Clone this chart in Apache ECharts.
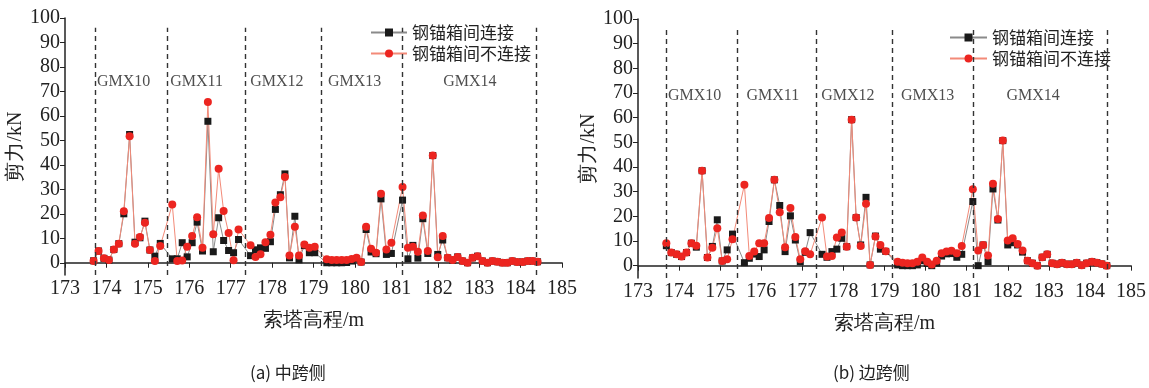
<!DOCTYPE html>
<html>
<head>
<meta charset="utf-8">
<script src="https://cdn.jsdelivr.net/npm/echarts@6/dist/echarts.min.js"></script>
<style>
  html, body { margin: 0; padding: 0; background: #fff; }
  #chart { width: 1149px; height: 388px; }
</style>
</head>
<body>
<div id="chart"></div>
<script>
  // 索塔高程 (m)，两幅图共用
  const heights = [
    173.69, 173.81, 173.94, 174.06, 174.18, 174.30, 174.42, 174.56, 174.69, 174.81,
    174.93, 175.05, 175.17, 175.30, 175.59, 175.71, 175.83, 175.95, 176.07, 176.19,
    176.32, 176.45, 176.58, 176.71, 176.83, 176.95, 177.07, 177.19, 177.48, 177.60,
    177.72, 177.84, 177.96, 178.08, 178.20, 178.31, 178.42, 178.55, 178.65, 178.78,
    178.90, 179.03, 179.32, 179.44, 179.56, 179.68, 179.80, 179.92, 180.04, 180.15,
    180.27, 180.39, 180.51, 180.63, 180.76, 180.88, 181.15, 181.28, 181.40, 181.52,
    181.64, 181.76, 181.88, 182.00, 182.12, 182.24, 182.36, 182.48, 182.60, 182.72,
    182.84, 182.96, 183.08, 183.20, 183.32, 183.44, 183.56, 183.68, 183.80, 183.92,
    184.05, 184.17, 184.29, 184.41
  ];

  // (a) 中跨侧 剪力 kN
  const midLinked = [
    0.8, 4.8, 1.8, 1.1, 5.4, 7.8, 20, 52.4, 8.4, 10.2,
    17, 5.2, 2.7, 7.9, 1.6, 1.6, 8.2, 2.4, 8.2, 16.6,
    4.8, 57.8, 4.5, 18.4, 9.1, 5.0, 4.1, 9.5, 2.9, 5.3,
    6.1, 5.9, 8.6, 21.8, 27.8, 36.3, 2.0, 19.0, 1.2, 7.0,
    4.1, 4.1, 0, 0, 0, 0, 0.1, 0.7, 1.6, 0.3,
    13.6, 4.4, 3.7, 26.1, 3.4, 3.8, 25.6, 1.6, 7.1, 1.9,
    18.0, 3.8, 43.8, 3.4, 9.3, 2.0, 1.1, 2.4, 0.7, 0,
    2.0, 2.7, 0.7, 0, 0.7, 0.4, 0, 0, 0.7, 0.3,
    0.3, 0.7, 0.7, 0.4
  ];
  const midUnlinked = [
    0.7, 4.8, 1.8, 1.1, 5.4, 7.8, 21, 51.7, 7.8, 10.5,
    16.3, 5.2, 0.7, 6.8, 23.8, 0.7, 0.9, 6.5, 10.9, 18.6,
    6.1, 65.7, 11.6, 38.4, 21.1, 12.2, 1.0, 13.6, 7.2, 2.4,
    3.5, 8.4, 11.4, 24.6, 26.8, 35.0, 3.0, 14.7, 3.0, 7.5,
    6.1, 6.5, 1.4, 1.1, 1.1, 1.1, 1.1, 1.5, 2.0, 0.3,
    14.7, 5.7, 4.1, 28.2, 5.4, 8.2, 31.0, 6.1, 6.5, 4.5,
    19.3, 4.8, 43.8, 2.3, 10.9, 2.0, 1.1, 2.4, 0.7, 0,
    2.0, 2.7, 0.7, 0, 0.7, 0.4, 0, 0, 0.7, 0.3,
    0.3, 0.7, 0.7, 0.4
  ];

  // (b) 边跨侧 剪力 kN
  const sideLinked = [
    8.1, 5.3, 4.6, 3.7, 5.3, 9.1, 7.5, 38.5, 3.3, 7.8,
    18.6, 1.9, 6.4, 12.8, 1.2, 3.0, 4.7, 3.7, 6.4, 17.9,
    34.8, 24.4, 5.7, 20.2, 10.4, 1.6, 5.4, 13.4, 4.6, 3.4,
    5.7, 6.7, 11.1, 7.7, 59.2, 19.5, 8.4, 27.7, 0.3, 12.0,
    6.7, 5.8, 0.3, 0, 0, 0, 0.3, 2.0, 0.9, 0,
    1.0, 3.9, 4.8, 4.9, 3.4, 4.6, 26.0, 0, 8.4, 1.6,
    31.1, 18.5, 50.7, 8.4, 9.3, 8.4, 5.5, 2.0, 1.0, 0,
    3.4, 4.6, 1.0, 0.6, 1.2, 0.6, 0.6, 1.2, 0.2, 1.0,
    1.6, 1.2, 0.7, 0
  ];
  const sideUnlinked = [
    9.1, 5.3, 4.6, 3.7, 5.3, 9.1, 8.1, 38.5, 3.3, 7.3,
    15.2, 1.9, 2.6, 10.7, 32.8, 3.9, 5.7, 9.1, 9.1, 19.3,
    34.8, 21.7, 7.5, 23.4, 11.6, 2.6, 5.8, 4.6, 19.5, 3.7,
    3.9, 11.4, 13.4, 7.7, 59.2, 19.5, 8.0, 25.1, 0.3, 11.8,
    8.4, 5.8, 1.6, 1.2, 1.0, 1.0, 1.6, 3.3, 1.6, 0.5,
    2.0, 5.0, 5.7, 6.0, 5.0, 8.0, 31.0, 6.1, 8.4, 4.1,
    33.2, 18.9, 50.7, 10.2, 11.1, 8.8, 6.1, 2.0, 1.0, 0,
    3.4, 4.6, 1.0, 0.6, 1.2, 0.6, 0.6, 1.2, 0.2, 1.0,
    1.6, 1.2, 0.7, 0
  ];

  // 钢锚箱分段
  const midBounds = [173.72, 175.46, 177.35, 179.18, 181.15, 184.38];
  const sideBounds = [173.68, 175.42, 177.34, 179.18, 181.15, 184.42];
  const zoneNames = ['GMX10', 'GMX11', 'GMX12', 'GMX13', 'GMX14'];
  const midZoneX = [173.77, 175.54, 177.47, 179.35, 182.13];
  const sideZoneX = [173.73, 175.64, 177.46, 179.40, 181.97];
  const yTicks = [0, 10, 20, 30, 40, 50, 60, 70, 80, 90, 100];

  const nameLinked = '钢锚箱间连接';
  const nameUnlinked = '钢锚箱间不连接';
  const serif = 'Liberation Serif';
  const cjk = 'Noto Sans CJK SC';
  // 刻度文字用 rich 指定衬线体
  const serifRich = { s: { fontFamily: serif, fontSize: 20, color: '#222' } };

  const chart = echarts.init(document.getElementById('chart'));

  function pairs(vals) {
    return heights.map((h, i) => [h, vals[i]]);
  }

  function xAxisOf(gridIndex) {
    return {
      type: 'value', gridIndex: gridIndex,
      min: 173, max: 185, interval: 1,
      name: '{s|索塔高程/m}', nameLocation: 'middle', nameGap: 36,
      nameTextStyle: { fontFamily: serif, fontSize: 20, color: '#222', rich: serifRich },
      axisLine: { lineStyle: { color: '#222', width: 1.5 } },
      axisTick: { show: true, inside: false, length: 5, lineStyle: { color: '#222' } },
      axisLabel: {
        fontFamily: serif, fontSize: 20, color: '#222', margin: 4,
        showMinLabel: true, showMaxLabel: true,
        formatter: '{s|{value}}', rich: serifRich
      },
      splitLine: { show: false }
    };
  }

  function yAxisOf(gridIndex) {
    return {
      type: 'value', gridIndex: gridIndex,
      min: -5, max: 100,
      name: '{s|剪力/kN}', nameLocation: 'middle', nameGap: 38,
      nameTextStyle: { fontFamily: serif, fontSize: 20, color: '#222', rich: serifRich },
      axisLine: { show: true, lineStyle: { color: '#222', width: 1.5 } },
      axisTick: { show: true, inside: false, length: 5, customValues: yTicks, lineStyle: { color: '#222' } },
      axisLabel: {
        fontFamily: serif, fontSize: 20, color: '#222', margin: 5, customValues: yTicks,
        formatter: '{s|{value}}', rich: serifRich
      },
      splitLine: { show: false }
    };
  }

  function boundLines(bounds) {
    return {
      silent: true,
      symbol: ['none', 'none'],
      label: { show: false },
      lineStyle: { color: '#333', width: 1.4, type: [5, 4] },
      data: bounds.map(b => [{ coord: [b, -5] }, { coord: [b, 96] }])
    };
  }

  function seriesFor(idx, linked, unlinked, bounds, zoneX, zoneY) {
    return [
      {
        name: nameLinked, type: 'line', xAxisIndex: idx, yAxisIndex: idx,
        data: pairs(linked),
        symbol: 'rect', symbolSize: 7,
        itemStyle: { color: '#1a1a1a' },
        lineStyle: { color: '#8a8a8a', width: 1 },
        markLine: boundLines(bounds),
        animation: false
      },
      {
        name: nameUnlinked, type: 'line', xAxisIndex: idx, yAxisIndex: idx,
        data: pairs(unlinked),
        symbol: 'circle', symbolSize: 8,
        itemStyle: { color: '#ec2520' },
        lineStyle: { color: '#f38a78', width: 1 },
        animation: false
      },
      {
        name: 'zones', type: 'scatter', xAxisIndex: idx, yAxisIndex: idx,
        data: zoneX.map((x, i) => ({ value: [x, zoneY], name: zoneNames[i] })),
        symbolSize: 0, silent: true,
        label: {
          show: true, position: 'right', distance: 0,
          formatter: p => p.name,
          fontFamily: serif, fontSize: 16, color: '#222'
        },
        animation: false
      }
    ];
  }

  function legendFor(left, top, w) {
    return {
      data: [nameLinked, nameUnlinked],
      orient: 'vertical', left: left, top: top, padding: 0,
      itemWidth: w, itemHeight: 10, itemGap: 4,
      textStyle: { fontFamily: cjk, fontSize: 17, color: '#222' }
    };
  }

  chart.setOption({
    backgroundColor: '#fff',
    animation: false,
    grid: [
      { left: 65, right: 587, top: 18, bottom: 113 },
      { left: 638, right: 16, top: 19, bottom: 110 }
    ],
    xAxis: [xAxisOf(0), xAxisOf(1)],
    yAxis: [yAxisOf(0), yAxisOf(1)],
    legend: [legendFor(370, 24, 36), legendFor(949, 29, 37)],
    series: [].concat(
      seriesFor(0, midLinked, midUnlinked, midBounds, midZoneX, 74),
      seriesFor(1, sideLinked, sideUnlinked, sideBounds, sideZoneX, 69)
    ),
    graphic: [
      { type: 'text', left: 250, top: 364, style: { text: '(a) 中跨侧', font: '17px "Noto Sans CJK SC", sans-serif', fill: '#222' } },
      { type: 'text', left: 833, top: 364, style: { text: '(b) 边跨侧', font: '17px "Noto Sans CJK SC", sans-serif', fill: '#222' } }
    ]
  });
</script>
</body>
</html>
